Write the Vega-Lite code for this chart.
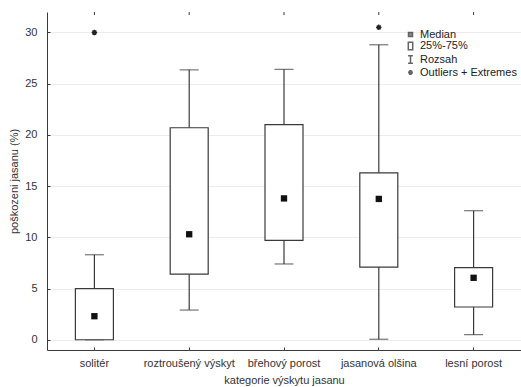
{
  "$schema": "https://vega.github.io/schema/vega-lite/v6.json",
  "usermeta": {"embedOptions": {"actions": false}},
  "width": 474,
  "height": 338,
  "autosize": {"type": "none"},
  "padding": {"left": 47, "top": 12, "right": 0, "bottom": 37},
  "background": "white",
  "view": {"stroke": "transparent", "fill": "white"},
  "config": {
    "font": "Liberation Sans",
    "view": {"stroke": "transparent"},
    "axis": {
      "labelFont": "Liberation Sans",
      "titleFont": "Liberation Sans",
      "labelFontSize": 11,
      "titleFontSize": 11,
      "labelColor": "#333",
      "titleColor": "#333",
      "titleFontWeight": "normal",
      "domainColor": "#3a3a3a",
      "tickColor": "#3a3a3a",
      "gridColor": "#ececec"
    }
  },
  "datasets": {
    "boxes": [
      {"kategorie": "solitér", "min": 0, "q1": 0, "median": 2.3, "q3": 5.0, "max": 8.3},
      {"kategorie": "roztroušený výskyt", "min": 2.9, "q1": 6.4, "median": 10.3, "q3": 20.7, "max": 26.35},
      {"kategorie": "břehový porost", "min": 7.4, "q1": 9.7, "median": 13.8, "q3": 21.0, "max": 26.4},
      {"kategorie": "jasanová olšina", "min": 0.05, "q1": 7.1, "median": 13.75, "q3": 16.3, "max": 28.8},
      {"kategorie": "lesní porost", "min": 0.5, "q1": 3.2, "median": 6.05, "q3": 7.05, "max": 12.6}
    ],
    "outliers": [
      {"kategorie": "solitér", "hodnota": 30.0},
      {"kategorie": "jasanová olšina", "hodnota": 30.5}
    ],
    "legenda": [
      {"polozka": "Median"},
      {"polozka": "25%-75%"},
      {"polozka": "Rozsah"},
      {"polozka": "Outliers + Extremes"}
    ]
  },
  "encoding": {
    "x": {
      "field": "kategorie",
      "type": "nominal",
      "sort": ["solitér", "roztroušený výskyt", "břehový porost", "jasanová olšina", "lesní porost"],
      "scale": {"paddingInner": 0, "paddingOuter": 0},
      "axis": {
        "title": "kategorie výskytu jasanu",
        "labelAngle": 0,
        "tickSize": -3,
        "labelPadding": 10,
        "titlePadding": 6,
        "grid": false
      }
    }
  },
  "layer": [
    {
      "data": {"name": "boxes"},
      "mark": {"type": "rule", "color": "#3a3a3a", "strokeWidth": 1.2},
      "encoding": {
        "y": {
          "field": "min",
          "type": "quantitative",
          "scale": {"domain": [-1, 32], "nice": false, "zero": false},
          "axis": {
            "title": "poškozeni jasanu (%)",
            "values": [0, 5, 10, 15, 20, 25, 30],
            "grid": true,
            "tickSize": -3,
            "labelPadding": 13,
            "titlePadding": 5
          }
        },
        "y2": {"field": "max"}
      }
    },
    {
      "mark": {"type": "rule", "color": "#3a3a3a", "strokeWidth": 1},
      "encoding": {
        "x": null,
        "y": {"datum": 32, "type": "quantitative"}
      }
    },
    {
      "data": {"name": "boxes"},
      "mark": {"type": "rule", "color": "#3a3a3a", "strokeWidth": 1},
      "encoding": {
        "y": {"datum": 32, "type": "quantitative"},
        "y2": {"datum": 31.7}
      }
    },
    {
      "data": {"name": "boxes"},
      "mark": {"type": "tick", "color": "#3a3a3a", "size": 19, "thickness": 1.2},
      "encoding": {"y": {"field": "max", "type": "quantitative"}}
    },
    {
      "data": {"name": "boxes"},
      "mark": {"type": "tick", "color": "#3a3a3a", "size": 19, "thickness": 1.2},
      "encoding": {"y": {"field": "min", "type": "quantitative"}}
    },
    {
      "data": {"name": "boxes"},
      "mark": {"type": "bar", "fill": "white", "stroke": "#3a3a3a", "strokeWidth": 1.2, "size": 38},
      "encoding": {
        "y": {"field": "q1", "type": "quantitative"},
        "y2": {"field": "q3"}
      }
    },
    {
      "data": {"name": "boxes"},
      "mark": {"type": "point", "shape": "square", "filled": true, "color": "#111", "size": 40, "opacity": 1},
      "encoding": {"y": {"field": "median", "type": "quantitative"}}
    },
    {
      "data": {"name": "outliers"},
      "mark": {
        "type": "point",
        "shape": "M-1,0L1,0M0,-1L0,1M-0.7,-0.7L0.7,0.7M-0.7,0.7L0.7,-0.7",
        "filled": false,
        "stroke": "#222",
        "strokeWidth": 1.4,
        "size": 30,
        "opacity": 1
      },
      "encoding": {"y": {"field": "hodnota", "type": "quantitative"}}
    },
    {
      "data": {"name": "legenda"},
      "transform": [{"filter": "false"}],
      "mark": {"type": "point", "stroke": "#222", "strokeWidth": 1},
      "encoding": {
        "shape": {
          "field": "polozka",
          "type": "nominal",
          "scale": {
            "domain": ["Median", "25%-75%", "Rozsah", "Outliers + Extremes"],
            "range": [
              "M-0.5,-0.5H0.5V0.5H-0.5Z",
              "M-0.55,-0.95H0.55V0.95H-0.55Z",
              "M-0.6,-0.95H0.6M0,-0.95V0.95M-0.6,0.95H0.6",
              "M-0.6,0L0.6,0M0,-0.6L0,0.6M-0.42,-0.42L0.42,0.42M-0.42,0.42L0.42,-0.42"
            ]
          },
          "legend": {
            "title": null,
            "orient": "none",
            "legendX": 358,
            "legendY": 17,
            "symbolSize": 64,
            "labelFont": "Liberation Sans",
            "labelFontSize": 11,
            "labelColor": "#222",
            "labelOffset": 4,
            "rowPadding": -1.5,
            "encode": {
              "symbols": {
                "update": {
                  "stroke": {"value": "#222"},
                  "strokeWidth": {"value": 1},
                  "opacity": {"value": 1}
                }
              }
            }
          }
        },
        "fill": {
          "field": "polozka",
          "type": "nominal",
          "scale": {
            "domain": ["Median", "25%-75%", "Rozsah", "Outliers + Extremes"],
            "range": ["#111", "white", "transparent", "transparent"]
          },
          "legend": {
            "title": null,
            "orient": "none",
            "legendX": 358,
            "legendY": 17,
            "symbolSize": 64,
            "labelFont": "Liberation Sans",
            "labelFontSize": 11,
            "labelColor": "#222",
            "labelOffset": 4,
            "rowPadding": -1.5,
            "encode": {
              "symbols": {
                "update": {
                  "stroke": {"value": "#222"},
                  "strokeWidth": {"value": 1},
                  "opacity": {"value": 1}
                }
              }
            }
          }
        }
      }
    }
  ]
}
